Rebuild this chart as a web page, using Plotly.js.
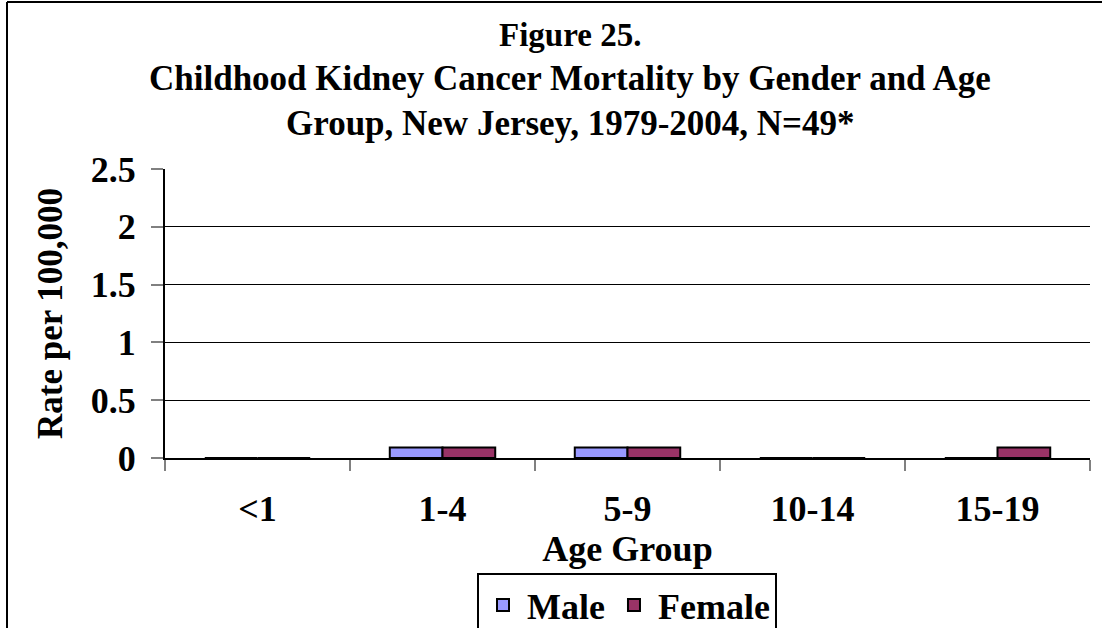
<!DOCTYPE html>
<html>
<head>
<meta charset="utf-8">
<script src="https://cdn.plot.ly/plotly-3.0.1.min.js"></script>
<style>html,body{margin:0;padding:0;background:#fff;}#chart{width:1102px;height:628px;}</style>
</head>
<body>
<div id="chart"></div>
<script>
const categories = ["<1", "1-4", "5-9", "10-14", "15-19"];
const maleRates = [0, 0.09, 0.09, 0, 0];
const femaleRates = [0, 0.09, 0.09, 0, 0.09];
const yTickValues = [0, 0.5, 1, 1.5, 2, 2.5];
const yTickLabels = ["0", "0.5", "1", "1.5", "2", "2.5"];
const seriesNames = ["Male", "Female"];
const titleLines = ["Figure 25.", "Childhood Kidney Cancer Mortality by Gender and Age", "Group, New Jersey, 1979-2004, N=49*"];
const xAxisTitle = "Age Group";
const yAxisTitle = "Rate per 100,000";

const FONT = "Liberation Serif, Times New Roman, serif";

// plot area in pixels
const L = 165, R = 1090, T = 169, B = 458;
const px2x = p => (p - L) / (R - L);
const py2y = p => (B - p) / (B - T);

const traces = [
  {type: "bar", name: seriesNames[0], x: categories, y: maleRates,
   marker: {color: "#9999FF", line: {color: "#000000", width: 2}}},
  {type: "bar", name: seriesNames[1], x: categories, y: femaleRates,
   marker: {color: "#993366", line: {color: "#000000", width: 2}}}
];

const titleY = [35, 79, 123];
const titleSizes = [33, 35, 35];
const annotations = titleLines.map((t, i) => ({
  text: t, xref: "paper", yref: "paper", x: px2x(570), y: py2y(titleY[i]),
  xanchor: "center", yanchor: "middle", showarrow: false,
  font: {family: FONT, size: titleSizes[i], color: "#000000", weight: "bold"}
}));

const layout = {
  width: 1102, height: 628,
  paper_bgcolor: "#ffffff", plot_bgcolor: "#ffffff",
  font: {family: FONT, color: "#000000", size: 36},
  margin: {l: L, r: 1102 - R, t: T, b: 628 - B, autoexpand: false},
  barmode: "group", bargap: 0.43, bargroupgap: 0,
  showlegend: true,
  annotations: annotations,
  xaxis: {type: "category", tickson: "boundaries", ticks: "outside", ticklen: 11,
          tickcolor: "#808080", tickwidth: 2, showline: true, linecolor: "#000000", linewidth: 2,
          showgrid: false, zeroline: false, layer: "above traces",
          ticklabelstandoff: 18,
          tickfont: {family: FONT, size: 36, weight: "bold"},
          title: {text: xAxisTitle, standoff: 2, font: {family: FONT, size: 36, weight: "bold"}}},
  yaxis: {range: [0, 2.5], tickvals: yTickValues, ticktext: yTickLabels,
          ticks: "outside", ticklen: 12, tickcolor: "#808080", tickwidth: 2,
          ticklabelstandoff: 8,
          showline: true, linecolor: "#000000", linewidth: 2,
          showgrid: true, gridcolor: "#000000", gridwidth: 1, zeroline: false,
          tickfont: {family: FONT, size: 36, weight: "bold"},
          title: {text: yAxisTitle, standoff: 18, font: {family: FONT, size: 35, weight: "bold"}}},
  legend: {orientation: "h", x: px2x(627), xanchor: "center", y: py2y(573), yanchor: "top",
           bordercolor: "#000000", borderwidth: 2, bgcolor: "#ffffff", itemwidth: 38,
           font: {family: FONT, size: 36, weight: "bold"}, traceorder: "normal"},
  shapes: [
    {type: "line", xref: "paper", yref: "paper",
     x0: px2x(7), x1: px2x(7), y0: py2y(640), y1: py2y(2),
     line: {color: "#000000", width: 2}},
    {type: "line", xref: "paper", yref: "paper",
     x0: px2x(7), x1: px2x(1110), y0: py2y(2), y1: py2y(2),
     line: {color: "#000000", width: 2}}
  ]
};

Plotly.newPlot("chart", traces, layout, {displayModeBar: false, staticPlot: true});
</script>
</body>
</html>
